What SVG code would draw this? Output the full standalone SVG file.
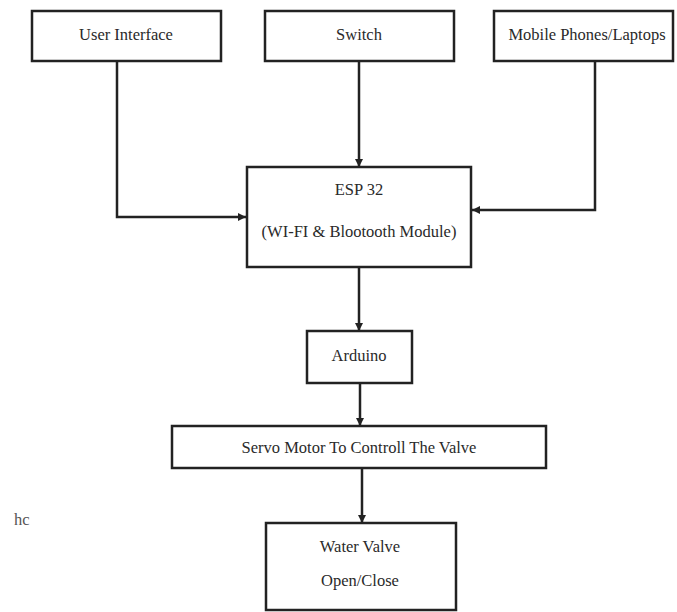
<svg xmlns="http://www.w3.org/2000/svg" width="677" height="612" viewBox="0 0 677 612">
<style>
.box{fill:#fff;stroke:#222;stroke-width:2.5}
.t{font-family:'Liberation Serif','Times New Roman',Tinos,'DejaVu Serif',serif;font-size:16.5px;fill:#2a2a2a;text-anchor:middle}
.c{fill:none;stroke:#222;stroke-width:2.5}
</style>
<defs>
<marker id="ah" markerUnits="userSpaceOnUse" markerWidth="9" markerHeight="9" refX="8" refY="4" orient="auto">
<path d="M0,0 L8,4 L0,8 z" fill="#222"/>
</marker>
</defs>
<rect width="677" height="612" fill="#fff"/>
<g id="connectors">
<path class="c" d="M117,61 V217 H246" marker-end="url(#ah)"/>
<path class="c" d="M359,61 V167" marker-end="url(#ah)"/>
<path class="c" d="M595,61 V210 H472" marker-end="url(#ah)"/>
<path class="c" d="M359,267 V331" marker-end="url(#ah)"/>
<path class="c" d="M360,383 V426" marker-end="url(#ah)"/>
<path class="c" d="M362,468 V523" marker-end="url(#ah)"/>
</g>
<g id="user-interface">
<rect class="box" x="32" y="11" width="189" height="50"/>
<text class="t" x="126" y="40">User Interface</text>
</g>
<g id="switch">
<rect class="box" x="265" y="11" width="189" height="50"/>
<text class="t" x="359" y="40">Switch</text>
</g>
<g id="mobile">
<rect class="box" x="494" y="11" width="179" height="50"/>
<text class="t" x="587" y="40">Mobile Phones/Laptops</text>
</g>
<g id="esp32">
<rect class="box" x="247" y="167" width="224" height="100"/>
<text class="t" x="359" y="195">ESP 32</text>
<text class="t" x="359" y="237">(WI-FI &amp; Blootooth Module)</text>
</g>
<g id="arduino">
<rect class="box" x="307" y="331" width="105" height="52"/>
<text class="t" x="359" y="361">Arduino</text>
</g>
<g id="servo">
<rect class="box" x="172" y="426" width="374" height="42"/>
<text class="t" x="359" y="453">Servo Motor To Controll The Valve</text>
</g>
<g id="water-valve">
<rect class="box" x="266" y="523" width="190" height="87"/>
<text class="t" x="360" y="552">Water Valve</text>
<text class="t" x="360" y="586">Open/Close</text>
</g>
<text class="t" x="14" y="525" style="text-anchor:start;fill:#555">hc</text>
</svg>
